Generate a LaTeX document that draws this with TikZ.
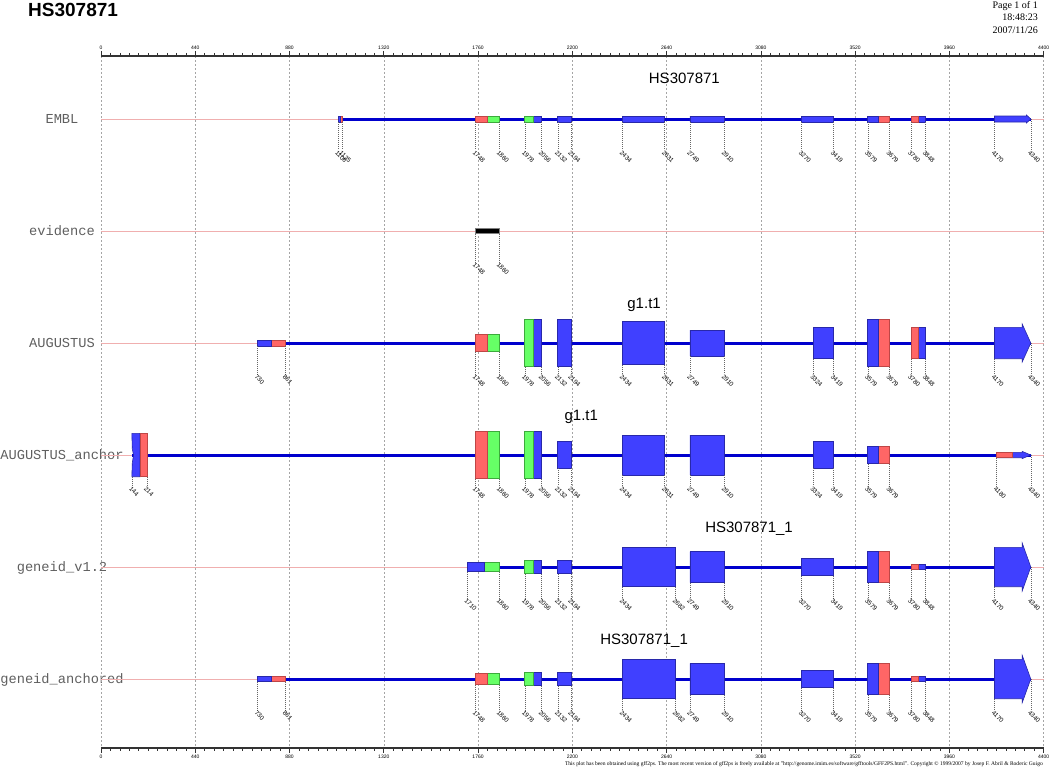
\documentclass[tikz,border=0pt]{standalone}
\usepackage{fontspec}
\setmainfont{Liberation Serif}
\setsansfont{Liberation Sans}
\setmonofont{Liberation Mono}

\definecolor{exblue}{RGB}{64,64,255}
\definecolor{exbluedark}{RGB}{40,40,170}
\definecolor{exred}{RGB}{255,102,102}
\definecolor{exreddark}{RGB}{190,70,70}
\definecolor{exgreen}{RGB}{102,255,102}
\definecolor{exgreendark}{RGB}{60,170,60}
\definecolor{intronblue}{RGB}{0,0,205}
\definecolor{rowpink}{RGB}{240,175,175}
\definecolor{gridgray}{RGB}{165,165,165}
\definecolor{labelgray}{RGB}{95,95,95}

\tikzset{
  blueex/.style={fill=exblue, draw=exbluedark, line width=0.6pt},
  redex/.style={fill=exred, draw=exreddark, line width=0.6pt},
  greenex/.style={fill=exgreen, draw=exgreendark, line width=0.6pt},
  blackex/.style={fill=black, draw=gray, line width=0.6pt},
  intron/.style={draw=intronblue, line width=3pt},
  rowline/.style={draw=rowpink, line width=0.8pt},
  gridline/.style={draw=gridgray, line width=0.5pt, dash pattern=on 2pt off 2pt},
  axisline/.style={draw=black!80, line width=1.8pt},
  axistick/.style={draw=black!80, line width=0.6pt},
  axislabel/.style={inner sep=0pt, font=\sffamily\fontsize{5}{5}\selectfont},
  boundtick/.style={draw=black!60, line width=0.4pt, dash pattern=on 1pt off 1pt},
  boundlabel/.style={anchor=north west, rotate=-45, inner sep=0pt, font=\sffamily\fontsize{6.3}{6.3}\selectfont},
  rowlabel/.style={anchor=base, text=labelgray, font=\ttfamily\fontsize{13.7}{14}\selectfont},
  genename/.style={anchor=base, font=\sffamily\fontsize{15}{15}\selectfont},
}

% row, start, split, end, first part, second part, half height
\newcommand{\exon}[7]{%
  \filldraw[#6] (#2,#1-#7) rectangle (#4,#1+#7);
  \filldraw[#5] (#2,#1-#7) rectangle (#3,#1+#7);
  \draw[boundtick] (#2,#1+#7) -- (#2,#1+31) node[boundlabel] (p#1-#2) {#2};
  \draw[boundtick] (#4,#1+#7) -- (#4,#1+31) node[boundlabel] (p#1-#4) {#4};
}
% row, start, split, neck, end, first part, half height, head half height
\newcommand{\lastexon}[8]{%
  \filldraw[blueex] (#2,#1-#7) -- (#4,#1-#7) -- (#4,#1-#8) -- (#5,#1) -- (#4,#1+#8) -- (#4,#1+#7) -- (#2,#1+#7) -- cycle;
  \filldraw[#6] (#2,#1-#7) rectangle (#3,#1+#7);
  \draw[boundtick] (#2,#1+#7) -- (#2,#1+31) node[boundlabel] (p#1-#2) {#2};
  \draw[boundtick] (#5,#1) -- (#5,#1+31) node[boundlabel] (p#1-#5) {#5};
}

\begin{document}
\begin{tikzpicture}[x=1pt, y=-1pt]
  \useasboundingbox (0,0) rectangle (1050,768);

  \node[anchor=base west, inner sep=0pt, font=\sffamily\bfseries\fontsize{19}{19}\selectfont] (title) at (28,17) {HS307871};
  \node[anchor=base east, inner sep=0pt, font=\fontsize{10}{10}\selectfont] (page) at (1038,8.5) {Page 1 of 1};
  \node[anchor=base east, inner sep=0pt, font=\fontsize{10}{10}\selectfont] (time) at (1038,21) {18:48:23};
  \node[anchor=base east, inner sep=0pt, font=\fontsize{10}{10}\selectfont] (date) at (1038,34) {2007/11/26};

  \foreach \r/\t in {119/EMBL, 231/evidence, 343/AUGUSTUS, 455/AUGUSTUS\_anchor, 567/geneid\_v1.2, 679/geneid\_anchored}
    \node[rowlabel] (row\r) at (62,\r+4.3) {\t};

  \begin{scope}[x=0.21423pt, xshift=101pt]
    % grid and axes
    \foreach \t in {0,440,...,4400}
      \draw[gridline] (\t,56) -- (\t,748);
    \draw[axisline] (0,56) -- (4400,56);
    \draw[axisline] (0,748) -- (4400,748);
    \foreach \t in {0,44,...,4400} {
      \draw[axistick] (\t,53) -- (\t,56);
      \draw[axistick] (\t,748) -- (\t,751);
    }
    \foreach \t in {0,440,...,4400} {
      \draw[axistick] (\t,51) -- (\t,57.5);
      \draw[axistick] (\t,746.5) -- (\t,753);
      \node[axislabel] (top\t) at (\t,47.5) {\t};
      \node[axislabel] (bot\t) at (\t,756.5) {\t};
    }

    \foreach \r in {119,231,...,679}
      \draw[rowline] (0,\r) -- (4400,\r);

    % EMBL
    \draw[intron] (1106,119) -- (4340,119);
    \foreach \s/\m/\e/\a/\b in {1106/1116/1125/blueex/redex, 1748/1805/1860/redex/greenex,
        1978/2018/2056/greenex/blueex, 2132/2132/2194/blueex/blueex, 2434/2434/2631/blueex/blueex,
        2749/2749/2910/blueex/blueex, 3270/3270/3419/blueex/blueex, 3579/3629/3679/blueex/redex,
        3780/3816/3848/redex/blueex}
      {\exon{119}{\s}{\m}{\e}{\a}{\b}{3}}
    \lastexon{119}{4170}{4170}{4320}{4340}{blueex}{3}{4}
    \node[genename] (embl-gene) at (2723,119-35) {HS307871};

    % evidence
    \exon{231}{1748}{1748}{1860}{blackex}{blackex}{2.7}

    % AUGUSTUS
    \draw[intron] (730,343) -- (4340,343);
    \foreach \s/\m/\e/\a/\b/\h in {730/796/861/blueex/redex/2.8, 1748/1805/1860/redex/greenex/8.5,
        1978/2018/2056/greenex/blueex/23.5, 2132/2132/2194/blueex/blueex/23.5, 2434/2434/2631/blueex/blueex/21.7,
        2749/2749/2910/blueex/blueex/13, 3324/3324/3419/blueex/blueex/15.7, 3579/3629/3679/blueex/redex/23.5,
        3780/3816/3848/redex/blueex/15.7}
      {\exon{343}{\s}{\m}{\e}{\a}{\b}{\h}}
    \lastexon{343}{4170}{4170}{4300}{4340}{blueex}{15.7}{19}
    \node[genename] (aug-gene) at (2535,343-35) {g1.t1};

    % AUGUSTUS_anchor
    \draw[intron] (144,455) -- (4340,455);
    \filldraw[blueex] (144,455-21.7) -- (182,455-21.7) -- (182,455+21.7) -- (144,455+21.7)
      -- (146,455+8) -- (152,455) -- (146,455-6) -- cycle;
    \filldraw[redex] (182,455-21.7) rectangle (214,455+21.7);
    \draw[boundtick] (144,455+21.7) -- (144,455+31) node[boundlabel] (p455-144) {144};
    \draw[boundtick] (214,455+21.7) -- (214,455+31) node[boundlabel] (p455-214) {214};
    \foreach \s/\m/\e/\a/\b/\h in {1748/1805/1860/redex/greenex/23.7, 1978/2018/2056/greenex/blueex/23.7,
        2132/2132/2194/blueex/blueex/13.3, 2434/2434/2631/blueex/blueex/19.8, 2749/2749/2910/blueex/blueex/19.8,
        3324/3324/3419/blueex/blueex/13.3, 3579/3629/3679/blueex/redex/8.7}
      {\exon{455}{\s}{\m}{\e}{\a}{\b}{\h}}
    \lastexon{455}{4180}{4252}{4300}{4340}{redex}{2.7}{3.6}
    \node[genename] (anchor-gene) at (2242,455-35) {g1.t1};

    % geneid_v1.2
    \draw[intron] (1710,567) -- (4340,567);
    \foreach \s/\m/\e/\a/\b/\h in {1710/1788/1860/blueex/greenex/4.7, 1978/2018/2056/greenex/blueex/6.5,
        2132/2132/2194/blueex/blueex/6.5, 2434/2434/2682/blueex/blueex/19.7, 2749/2749/2910/blueex/blueex/15.5,
        3270/3270/3419/blueex/blueex/8.7, 3579/3629/3679/blueex/redex/15.5, 3780/3816/3848/redex/blueex/2.7}
      {\exon{567}{\s}{\m}{\e}{\a}{\b}{\h}}
    \lastexon{567}{4170}{4170}{4300}{4340}{blueex}{19.7}{24}
    \node[genename] (v12-gene) at (3025,567-35) {HS307871\_1};

    % geneid_anchored
    \draw[intron] (730,679) -- (4340,679);
    \foreach \s/\m/\e/\a/\b/\h in {730/796/861/blueex/redex/2.7, 1748/1805/1860/redex/greenex/5.7,
        1978/2018/2056/greenex/blueex/6.7, 2132/2132/2194/blueex/blueex/6.7, 2434/2434/2682/blueex/blueex/19.7,
        2749/2749/2910/blueex/blueex/15.7, 3270/3270/3419/blueex/blueex/8.7, 3579/3629/3679/blueex/redex/15.7,
        3780/3816/3848/redex/blueex/2.7}
      {\exon{679}{\s}{\m}{\e}{\a}{\b}{\h}}
    \lastexon{679}{4170}{4170}{4300}{4340}{blueex}{19.7}{23.7}
    \node[genename] (anch-gene) at (2535,679-35) {HS307871\_1};
  \end{scope}

  \node[anchor=base east, inner sep=0pt, font=\fontsize{5.55}{5.55}\selectfont] (credit) at (1043,765)
    {This plot has been obtained using gff2ps. The most recent version of gff2ps is freely available at "http://genome.imim.es/software/gfftools/GFF2PS.html". Copyright © 1999/2007 by Josep F. Abril \& Roderic Guigo};
\end{tikzpicture}
\end{document}
